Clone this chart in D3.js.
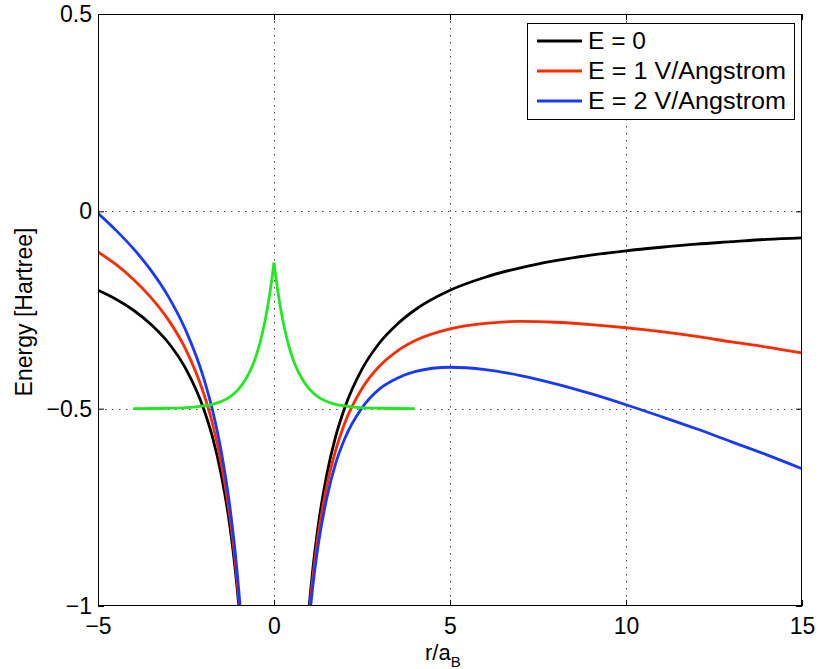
<!DOCTYPE html>
<html><head><meta charset="utf-8">
<script src="https://cdn.jsdelivr.net/npm/d3@7"></script>
<style>
body{margin:0;background:#fff}
svg{display:block}
text{font-family:"Liberation Sans",Arial,Helvetica,sans-serif;fill:#000}
</style>
</head><body>
<svg id="chart" width="820" height="669"></svg>
<script>
// ---- data ----
const xLeft  = [-5, -4.5, -4, -3.5, -3, -2.5, -2, -1.75, -1.5, -1.25, -1.1, -1, -0.95, -0.9];
const xRight = [0.9, 0.95, 1, 1.1, 1.25, 1.5, 1.75, 2, 2.5, 3, 3.5, 4, 5, 6, 7, 8, 9, 10, 11, 12, 13, 14, 15];

const e0Left  = [-0.200, -0.222, -0.250, -0.286, -0.333, -0.400, -0.500, -0.571, -0.667, -0.800, -0.909, -1.000, -1.053, -1.111];
const e0Right = [-1.111, -1.053, -1.000, -0.909, -0.800, -0.667, -0.571, -0.500, -0.400, -0.333, -0.286, -0.250, -0.200, -0.167, -0.143, -0.125, -0.111, -0.100, -0.091, -0.083, -0.077, -0.071, -0.067];

const e1Left  = [-0.103, -0.134, -0.172, -0.218, -0.275, -0.351, -0.461, -0.537, -0.638, -0.776, -0.888, -0.981, -1.034, -1.093];
const e1Right = [-1.129, -1.071, -1.020, -0.931, -0.824, -0.696, -0.606, -0.539, -0.449, -0.392, -0.354, -0.328, -0.298, -0.284, -0.279, -0.281, -0.287, -0.295, -0.305, -0.317, -0.331, -0.344, -0.359];

const e2Left  = [-0.005, -0.047, -0.094, -0.149, -0.216, -0.303, -0.422, -0.503, -0.608, -0.751, -0.866, -0.961, -1.016, -1.076];
const e2Right = [-1.146, -1.090, -1.039, -0.952, -0.849, -0.726, -0.639, -0.578, -0.498, -0.450, -0.423, -0.406, -0.395, -0.401, -0.416, -0.437, -0.462, -0.490, -0.520, -0.551, -0.584, -0.617, -0.652];

const densityX = [-4, -3, -2.5, -2, -1.75, -1.5, -1.25, -1, -0.8, -0.6, -0.5, -0.4, -0.3, -0.2, -0.1, -0.05, 0,
                  0.05, 0.1, 0.2, 0.3, 0.4, 0.5, 0.6, 0.8, 1, 1.25, 1.5, 1.75, 2, 2.5, 3, 4];
const densityY = [-0.500, -0.499, -0.4975, -0.493, -0.489, -0.482, -0.470, -0.450, -0.425, -0.389, -0.364, -0.334, -0.297, -0.252, -0.197, -0.165, -0.130,
                  -0.165, -0.197, -0.252, -0.297, -0.334, -0.364, -0.389, -0.425, -0.450, -0.470, -0.482, -0.489, -0.493, -0.4975, -0.499, -0.500];

const seriesNames = ["E = 0", "E = 1 V/Angstrom", "E = 2 V/Angstrom"];
const xTicks = [-5, 0, 5, 10, 15];
const xTickLabels = ["\u22125", "0", "5", "10", "15"];
const yTicks = [-1, -0.5, 0, 0.5];
const yTickLabels = ["\u22121", "\u22120.5", "0", "0.5"];

// ---- styles ----
const colors = ["#000000", "#ff2a00", "#1838ff"];
const greenColor = "#22e822";

// ---- layout ----
const L = 98, R = 802, T = 14, B = 606;
const svg = d3.select("#chart");
const x = d3.scaleLinear().domain([-5, 15]).range([L, R]);
const y = d3.scaleLinear().domain([-1, 0.5]).range([B, T]);

svg.append("rect").attr("x", 0).attr("y", 0).attr("width", 820).attr("height", 669).attr("fill", "#fff");

// grid
const grid = svg.append("g").attr("stroke", "#444").attr("stroke-width", 1).attr("stroke-dasharray", "1.5,5.5");
grid.selectAll("line.gx").data(xTicks.filter(v => v > -5 && v < 15)).join("line")
  .attr("x1", d => Math.round(x(d)) + 0.5).attr("x2", d => Math.round(x(d)) + 0.5)
  .attr("y1", T).attr("y2", B);
grid.selectAll("line.gy").data(yTicks.filter(v => v > -1 && v < 0.5)).join("line")
  .attr("y1", d => Math.round(y(d)) + 0.5).attr("y2", d => Math.round(y(d)) + 0.5)
  .attr("x1", L).attr("x2", R);

// clip
svg.append("defs").append("clipPath").attr("id", "clip")
  .append("rect").attr("x", L).attr("y", T).attr("width", R - L).attr("height", B - T);
const plot = svg.append("g").attr("clip-path", "url(#clip)");

const line = d3.line().x(d => x(d[0])).y(d => y(d[1])).curve(d3.curveMonotoneX);

const series = [[e0Left, e0Right], [e1Left, e1Right], [e2Left, e2Right]];
series.forEach((s, i) => {
  [[xLeft, s[0]], [xRight, s[1]]].forEach(([xs, ys]) => {
    plot.append("path")
      .attr("d", line(xs.map((v, k) => [v, ys[k]])))
      .attr("fill", "none").attr("stroke", colors[i]).attr("stroke-width", 2.8)
      .attr("stroke-linejoin", "round");
  });
});

const densLeft = densityX.map((v, k) => [v, densityY[k]]).filter(d => d[0] <= 0);
const densRight = densityX.map((v, k) => [v, densityY[k]]).filter(d => d[0] >= 0);
[densLeft, densRight].forEach(pts => {
  plot.append("path").attr("d", line(pts))
    .attr("fill", "none").attr("stroke", greenColor).attr("stroke-width", 2.8)
    .attr("stroke-linejoin", "round");
});

// axes
const fs = 23;
const xAxisB = d3.axisBottom(x).tickValues(xTicks).tickSizeInner(-6).tickSizeOuter(0).tickPadding(12)
  .tickFormat((d, i) => xTickLabels[i]);
const gB = svg.append("g").attr("transform", `translate(0,${B})`).call(xAxisB);
const xAxisT = d3.axisTop(x).tickValues(xTicks).tickSizeInner(-6).tickSizeOuter(0).tickFormat("");
const gT = svg.append("g").attr("transform", `translate(0,${T})`).call(xAxisT);
const yAxisL = d3.axisLeft(y).tickValues(yTicks).tickSizeInner(-6).tickSizeOuter(0).tickPadding(6)
  .tickFormat((d, i) => yTickLabels[i]);
const gL = svg.append("g").attr("transform", `translate(${L},0)`).call(yAxisL);
const yAxisR = d3.axisRight(y).tickValues(yTicks).tickSizeInner(-6).tickSizeOuter(0).tickFormat("");
const gR = svg.append("g").attr("transform", `translate(${R},0)`).call(yAxisR);
[gB, gT, gL, gR].forEach(g => {
  g.select(".domain").remove();
  g.selectAll("line").attr("stroke", "#000").attr("stroke-width", 1);
  g.selectAll("text").attr("font-size", fs).attr("font-family", '"Liberation Sans",Arial,sans-serif').attr("fill", "#000");
});

// box
svg.append("rect").attr("x", L + 0.5).attr("y", T + 0.5).attr("width", R - L - 1).attr("height", B - T - 1)
  .attr("fill", "none").attr("stroke", "#000").attr("stroke-width", 1);

// axis labels
const xl = svg.append("text").attr("x", 425).attr("y", 660).attr("font-size", 22);
xl.append("tspan").text("r/a");
xl.append("tspan").attr("font-size", 15).attr("dy", 7).text("B");

svg.append("text").attr("transform", "translate(32,312) rotate(-90)")
  .attr("text-anchor", "middle").attr("font-size", fs).text("Energy [Hartree]");

// legend
const lg = svg.append("g");
lg.append("rect").attr("x", 527.5).attr("y", 23.5).attr("width", 267).attr("height", 96)
  .attr("fill", "#fff").attr("stroke", "#000").attr("stroke-width", 1);
const legW = [58, 198, 198];
seriesNames.forEach((name, i) => {
  const yy = 41 + i * 30;
  lg.append("line").attr("x1", 537).attr("x2", 582).attr("y1", yy).attr("y2", yy)
    .attr("stroke", colors[i]).attr("stroke-width", 2.8);
  lg.append("text").attr("x", 588).attr("y", yy).attr("dy", "0.36em").attr("font-size", 23)
    .attr("textLength", legW[i]).attr("lengthAdjust", "spacingAndGlyphs").text(name);
});
</script>
</body></html>
